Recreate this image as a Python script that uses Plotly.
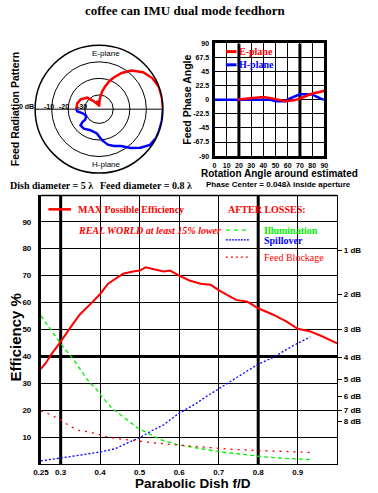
import plotly.graph_objects as go

W, H = 378, 493

# ---------------- data ----------------
title_text = "coffee can IMU dual mode feedhorn"

# feed radiation pattern (dB vs angle, degrees)
e_theta = [0, 10, 20, 30, 40, 50, 58, 65, 70, 75, 80, 83, 86, 89, 92, 100, 112, 124, 136, 152, 165, 180]
e_db = [0, 0, 0, -1.3, -3.8, -8.2, -12.8, -17.5, -20.8, -24.6, -27.7, -30.6, -33, -37, -35, -33.5, -35, -32.7, -28.6, -26, -25, -24.8]
h_theta = [0, -10, -20, -27, -35, -43, -51, -59, -68, -76, -85, -95, -112, -128, -139, -142, -143, -154, -167, -174, -180]
h_db = [0, 0, 0, 0, -1, -4.4, -8.4, -12.6, -14.6, -16.5, -20, -23.9, -24.9, -23.7, -23.8, -25.9, -28.3, -29.9, -28.2, -25.5, -24.8]
polar_ticks = [-30, -20, -10]
polar_tick_text = ["-30", "-20", "-10"]

# feed phase angle vs rotation angle
phase_e_x = [19, 25, 30, 35, 40, 45, 50, 55, 58, 62, 66, 70, 75, 80, 85, 90]
phase_e_y = [0.5, 1.5, 2.5, 3, 4.5, 3, 1.5, -1, -2.5, -2, -0.5, 2, 6.5, 10, 12, 14.5]
phase_h_x = [0, 10, 20, 30, 40, 46, 50, 55, 58, 61, 65, 70, 75, 80, 84, 88, 90]
phase_h_y = [0, 0, 0, 0, 0, 0, -2.5, -2.5, -2.5, 1.5, 5, 8.8, 9, 8.5, 4.7, 1, 0.5]
phase_yticks = [-90, -67.5, -45, -22.5, 0, 22.5, 45, 67.5, 90]
phase_ytext = ["-90", "-67.5", "-45", "-22.5", "0", "22.5", "45", "67.5", "90"]

# efficiency vs f/D
fd_max = [0.25, 0.262, 0.275, 0.287, 0.30, 0.324, 0.348, 0.377, 0.40, 0.42, 0.44, 0.458, 0.483, 0.50,
          0.515, 0.535, 0.56, 0.577, 0.60, 0.626, 0.654, 0.68, 0.70, 0.72, 0.744, 0.773, 0.80, 0.838,
          0.871, 0.90, 0.93, 0.96, 1.0]
eff_max = [35.4, 37.5, 40.5, 42.7, 45.5, 50.6, 55.5, 59.7, 63.2, 67, 68.8, 70.7, 71.5, 71.9,
           73.1, 72.5, 71.5, 71.9, 70, 68.2, 67, 66.6, 64.6, 63, 61, 60.3, 57.9, 55.5,
           53, 50.3, 49.4, 47.6, 44.9]
fd_ill = [0.25, 0.30, 0.332, 0.372, 0.389, 0.405, 0.43, 0.4625, 0.495, 0.52, 0.552, 0.593, 0.642,
          0.70, 0.757, 0.814, 0.871, 0.93]
eff_ill = [55.1, 44.8, 39, 30.5, 28.1, 25, 20.8, 17.2, 13.5, 11.7, 9.2, 7.4, 6.2,
           4.7, 3.8, 2.8, 2.2, 1.8]
fd_spill = [0.25, 0.30, 0.348, 0.40, 0.438, 0.47, 0.50, 0.528, 0.561, 0.60, 0.642, 0.667, 0.70,
            0.74, 0.797, 0.838, 0.887, 0.932]
eff_spill = [1.3, 2.3, 3.4, 4.6, 5.8, 8, 9.9, 12.3, 14.7, 19, 22.5, 25, 28.1,
             31.8, 36.9, 39.7, 43.9, 47.3]
fd_block = [0.25, 0.275, 0.30, 0.324, 0.348, 0.377, 0.405, 0.43, 0.4625, 0.495, 0.536, 0.577,
            0.626, 0.675, 0.732, 0.789, 0.847, 0.903, 0.93]
eff_block = [19.8, 18.4, 16.5, 14.1, 12.5, 11.9, 10.7, 9.8, 9.2, 8.6, 8.0, 7.4,
             6.8, 6.2, 5.6, 5.2, 5.0, 4.6, 4.4]
fd_ticks = [0.25, 0.3, 0.4, 0.5, 0.6, 0.7, 0.8, 0.9]
fd_tick_text = ["0.25", "0.3", "0.4", "0.5", "0.6", "0.7", "0.8", "0.9"]
eff_ticks = [10, 20, 30, 40, 50, 60, 70, 80, 90]
db_levels = [1, 2, 3, 4, 5, 6, 7, 8]
db_text = [f"{d} dB" for d in db_levels]
db_vals = [100 * 10 ** (-d / 10) for d in db_levels]

RED, BLUE, GREEN = "#ff0000", "#0000ff", "#00ee00"
SANS = "Liberation Sans"
SERIF = "Liberation Serif"


def px(x):
    return x / W


def py(y):
    return 1 - y / H


fig = go.Figure()

# polar pattern
fig.add_trace(go.Scatterpolar(r=e_db, theta=e_theta, mode="lines", subplot="polar",
                              line=dict(color=RED, width=2.5), showlegend=False, hoverinfo="skip"))
fig.add_trace(go.Scatterpolar(r=h_db, theta=h_theta, mode="lines", subplot="polar",
                              line=dict(color=BLUE, width=2.5), showlegend=False, hoverinfo="skip"))

# phase plot
fig.add_trace(go.Scatter(x=phase_h_x, y=phase_h_y, xaxis="x2", yaxis="y2", mode="lines",
                         line=dict(color=BLUE, width=2.5), showlegend=False, hoverinfo="skip"))
fig.add_trace(go.Scatter(x=phase_e_x, y=phase_e_y, xaxis="x2", yaxis="y2", mode="lines",
                         line=dict(color=RED, width=2.5), showlegend=False, hoverinfo="skip"))

# main efficiency plot
fig.add_trace(go.Scatter(x=fd_ill, y=eff_ill, mode="lines", line=dict(color=GREEN, width=1.3, dash="4px,3px"),
                         showlegend=False, hoverinfo="skip"))
fig.add_trace(go.Scatter(x=fd_spill, y=eff_spill, mode="lines", line=dict(color=BLUE, width=1.3, dash="2px,2px"),
                         showlegend=False, hoverinfo="skip"))
fig.add_trace(go.Scatter(x=fd_block, y=eff_block, mode="lines", line=dict(color=RED, width=1.3, dash="2px,5px"),
                         showlegend=False, hoverinfo="skip"))
fig.add_trace(go.Scatter(x=fd_max, y=eff_max, mode="lines", line=dict(color=RED, width=2),
                         showlegend=False, hoverinfo="skip"))
# invisible trace on the dB axis so it is drawn
fig.add_trace(go.Scatter(x=[fd_max[0]], y=[db_vals[0]], yaxis="y3", mode="markers",
                         marker=dict(opacity=0), showlegend=False, hoverinfo="skip"))

tickfont = dict(family=SANS, size=8, color="black", weight="bold")
smallfont = dict(family=SANS, size=7, color="black", weight="bold")

fig.update_layout(
    width=W, height=H, margin=dict(l=0, r=0, t=0, b=0),
    paper_bgcolor="white", plot_bgcolor="white",
    font=dict(family=SANS, color="black"),
    showlegend=False,
    polar=dict(
        domain=dict(x=[px(28), px(160)], y=[py(172.7), py(40.7)]),
        bgcolor="white", hole=0,
        radialaxis=dict(range=[-38.6, 0], tickvals=polar_ticks, showticklabels=False, ticks="",
                        showline=False, gridcolor="black", gridwidth=1.3),
        angularaxis=dict(tickvals=[0, 180], showticklabels=False, ticks="", showline=True,
                         linecolor="black", linewidth=1.5, gridcolor="black", gridwidth=1.3,
                         rotation=0, direction="counterclockwise"),
    ),
    xaxis2=dict(domain=[px(213.3), px(326.7)], anchor="y2", range=[0, 90], dtick=10,
                showgrid=True, gridcolor="black", gridwidth=1, zeroline=False,
                showline=True, linecolor="black", linewidth=3, mirror=True, ticks="",
                tickfont=smallfont),
    yaxis2=dict(domain=[py(154.3), py(40)], anchor="x2", range=[-90, 90], tickvals=phase_yticks,
                ticktext=phase_ytext, showgrid=True, gridcolor="black", gridwidth=1, zeroline=False,
                showline=True, linecolor="black", linewidth=3, mirror=True, ticks="",
                ticklabelstandoff=1, tickfont=smallfont),
    xaxis=dict(domain=[px(34), px(340)], anchor="y", range=[0.25, 1.0], tickvals=fd_ticks,
               ticktext=fd_tick_text, showgrid=True, gridcolor="black", gridwidth=1, zeroline=False,
               showline=True, linecolor="black", linewidth=1, ticks="",
               tickfont=tickfont),
    yaxis=dict(domain=[py(467), py(193.5)], anchor="x", range=[0, 100], tickvals=eff_ticks,
               showgrid=True, gridcolor="black", gridwidth=1, zeroline=False,
               showline=True, linecolor="black", linewidth=3, ticks="", ticklabelstandoff=5,
               tickfont=tickfont),
    yaxis3=dict(overlaying="y", side="right", anchor="x", range=[0, 100], tickvals=db_vals,
                ticktext=db_text, showgrid=False, zeroline=False, showline=True, linecolor="black",
                linewidth=1, ticks="outside", ticklen=4, tickwidth=1, tickcolor="black", tickfont=tickfont),
)

shapes = []
# thick grid lines, main plot
for xv in [0.3, 0.8]:
    shapes.append(dict(type="line", xref="x", yref="y", x0=xv, x1=xv, y0=0, y1=100,
                       line=dict(color="black", width=3), layer="below"))
shapes.append(dict(type="line", xref="x", yref="y", x0=0.25, x1=1.0, y0=40, y1=40,
                   line=dict(color="black", width=3), layer="below"))
shapes.append(dict(type="line", xref="x", yref="y", x0=0.25, x1=1.0, y0=100, y1=100,
                   line=dict(color="black", width=3), layer="above"))
# thick grid lines, phase plot
for xv in [20, 70]:
    shapes.append(dict(type="line", xref="x2", yref="y2", x0=xv, x1=xv, y0=-90, y1=90,
                       line=dict(color="black", width=3), layer="below"))
# legend samples (main plot)
shapes.append(dict(type="line", xref="paper", yref="paper", x0=px(41.7), x1=px(65), y0=py(208.3), y1=py(208.3),
                   line=dict(color=RED, width=2.5)))
shapes.append(dict(type="line", xref="paper", yref="paper", x0=px(225), x1=px(247), y0=py(229.3), y1=py(229.3),
                   line=dict(color=GREEN, width=1.3, dash="4px,4px")))
shapes.append(dict(type="line", xref="paper", yref="paper", x0=px(225), x1=px(249), y0=py(239.3), y1=py(239.3),
                   line=dict(color=BLUE, width=1.3, dash="2px,1px")))
shapes.append(dict(type="line", xref="paper", yref="paper", x0=px(225), x1=px(249), y0=py(256.7), y1=py(256.7),
                   line=dict(color=RED, width=1.3, dash="2px,3px")))
# legend samples (phase plot)
shapes.append(dict(type="line", xref="paper", yref="paper", x0=px(225), x1=px(236), y0=py(48.3), y1=py(48.3),
                   line=dict(color=RED, width=3)))
shapes.append(dict(type="line", xref="paper", yref="paper", x0=px(225), x1=px(236), y0=py(61.7), y1=py(61.7),
                   line=dict(color=BLUE, width=3)))
fig.update_layout(shapes=shapes)

ann = []


def text(t, x, y, size, color="black", family=SANS, bold=True, italic=False, xanchor="center", angle=0):
    ann.append(dict(text=t, x=px(x), y=py(y), xref="paper", yref="paper", showarrow=False,
                    xanchor=xanchor, yanchor="middle", textangle=angle,
                    font=dict(family=family, size=size, color=color,
                              weight="bold" if bold else "normal",
                              style="italic" if italic else "normal")))


text(title_text, 182.5, 6.5, 13, family=SERIF)
text("Feed Radiation Pattern", 7.5, 106.5, 10.5, angle=-90)
text("E-plane", 101.5, 50, 8, bold=False)
text("H-plane", 101.5, 163, 8, bold=False)
text("0 dB", 29, 103.5, 7, xanchor="right")
for tv, tt, xx in zip(polar_ticks, polar_tick_text, [76, 58, 42.5]):
    text(tt, xx, 103.5, 7)
text("Dish diameter = 5 λ", 0, 184.5, 10, family=SERIF, xanchor="left")
text("Feed diameter = 0.8 λ", 93, 184.5, 10, family=SERIF, xanchor="left")
text("Feed Phase Angle", 184.5, 97.5, 10.5, angle=-90)
text("E-plane", 236, 48.3, 10, color=RED, family=SERIF, xanchor="left")
text("H-plane", 236, 61.7, 10, color=BLUE, family=SERIF, xanchor="left")
text("Rotation Angle around estimated", 280, 172, 10)
text("Phase Center = 0.048λ inside aperture", 279.5, 183.5, 8)
text("MAX Possible Efficiency", 70, 208.3, 10, color=RED, family=SERIF, xanchor="left")
text("REAL WORLD at least 15% lower", 70, 229.3, 10, color=RED, family=SERIF, italic=True, xanchor="left")
text("AFTER LOSSES:", 225, 208.3, 10, color=RED, family=SERIF, xanchor="left")
text("Illumination", 262, 229.3, 10, color=GREEN, family=SERIF, xanchor="left")
text("Spillover", 262, 239.5, 10, color=BLUE, family=SERIF, xanchor="left")
text("Feed Blockage", 262, 256.7, 10, color=RED, family=SERIF, bold=False, xanchor="left")
text("Efficiency %", 7.5, 338, 15, angle=-90)
text("Parabolic Dish f/D", 191.3, 486.5, 13.5)
fig.update_layout(annotations=ann)

fig.write_html("out.html", config={"displayModeBar": False},
               post_script="document.body.style.margin='0';document.body.style.padding='0';"
                           "document.body.style.overflow='hidden';")
